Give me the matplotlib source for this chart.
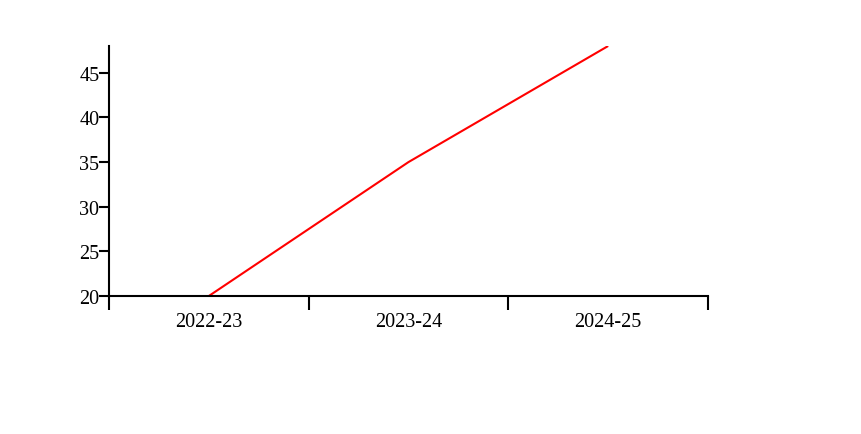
import matplotlib
matplotlib.use("Agg")
import matplotlib.pyplot as plt
import numpy as np

# Data
years = ["2022-23", "2023-24", "2024-25"]
values = [20, 35, 48]

plt.rcParams["font.family"] = ["Liberation Serif", "DejaVu Serif"]

fig = plt.figure(figsize=(8.61, 4.35), dpi=100)
W, H = 861, 435
ax = fig.add_axes([109 / W, (H - 297) / H, (708 - 109) / W, (297 - 47) / H])

centers = np.arange(len(years)) + 0.5
ax.plot(centers, values, color="#ff0000", linewidth=1.5, solid_capstyle="butt")

ax.set_xlim(0, len(years))
ax.set_ylim(20, 48)

# band boundaries as tick marks, labels centred in bands
ax.set_xticks(np.arange(len(years) + 1))
ax.set_xticklabels([])
ax.set_xticks(centers, minor=True)
ax.set_xticklabels(years, minor=True)
ax.tick_params(axis="x", which="major", length=10, width=1.5, direction="out")
ax.tick_params(axis="x", which="minor", length=0, pad=11.5, labelsize=14.5)

ax.set_yticks([20, 25, 30, 35, 40, 45])
ax.tick_params(axis="y", length=7, width=1.5, pad=0, labelsize=14.5)

for side in ["top", "right"]:
    ax.spines[side].set_visible(False)
for side in ["left", "bottom"]:
    ax.spines[side].set_linewidth(1.5)
    ax.spines[side].set_color("black")

fig.savefig("out.png", dpi=100)
